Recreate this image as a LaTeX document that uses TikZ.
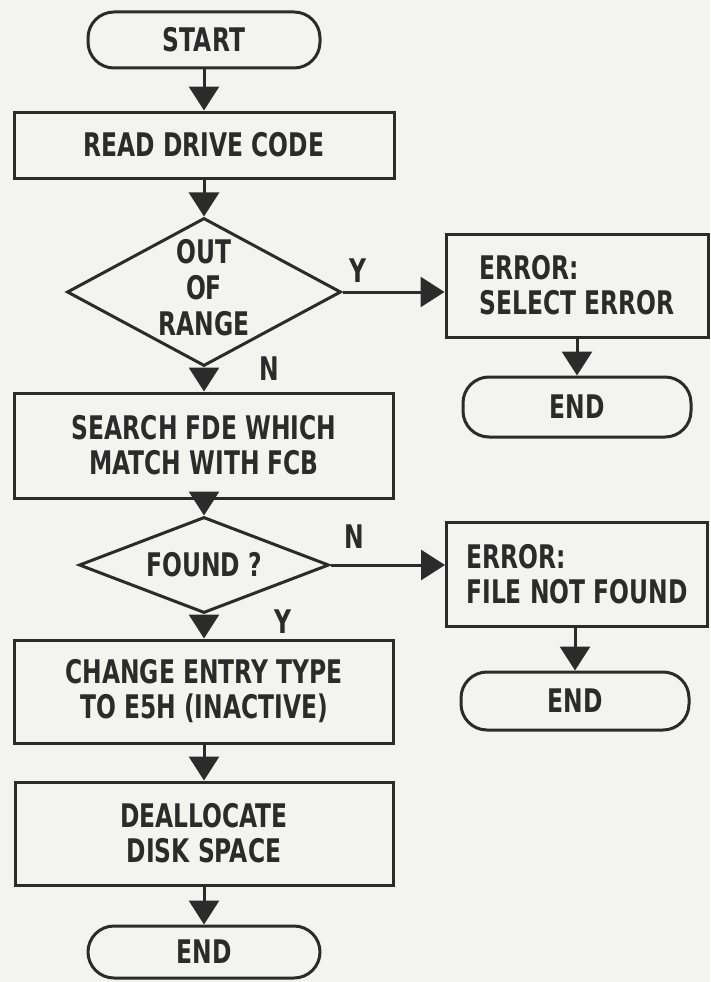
\documentclass[tikz,border=0pt]{standalone}
\usepackage{fontspec}
\newfontfamily\flowfont[FakeStretch=0.72]{DejaVu Sans}
\usetikzlibrary{shapes.geometric,arrows.meta}
\definecolor{ink}{HTML}{2B2B2B}
\definecolor{paper}{HTML}{F3F3F0}
\begin{document}
\begin{tikzpicture}[x=1pt,y=-1pt,
  every node/.style={font=\flowfont\bfseries\fontsize{32.5}{35}\selectfont, text=ink},
  box/.style={draw=ink, line width=3pt, rectangle, inner sep=0pt, align=center},
  term/.style={box, rounded corners=26pt},
  dec/.style={draw=ink, line width=3pt, diamond, inner sep=0pt},
  flow/.style={draw=ink, line width=3pt, -{Triangle[width=30pt,length=24pt]}},
  lbl/.style={inner sep=0pt}
]
\useasboundingbox (0,0) rectangle (710,982);
\fill[paper] (0,0) rectangle (710,982);

% main column
\node[term, minimum width=232pt, minimum height=56pt] (start) at (204,40) {START};
\node[box, minimum width=380pt, minimum height=66pt] (read) at (204,145) {READ DRIVE CODE};
\node[dec, minimum width=274pt, minimum height=148pt] (d1) at (204,292) {};
\node[align=center, inner sep=0pt, font=\flowfont\bfseries\fontsize{32.5}{36}\selectfont] (d1t) at (204,288) {OUT\\OF\\RANGE};
\node[box, minimum width=379pt, minimum height=105pt] (search) at (204,445.5) {SEARCH FDE WHICH\\MATCH WITH FCB};
\node[dec, minimum width=250pt, minimum height=96pt] (d2) at (204,565) {};
\node[inner sep=0pt] (d2t) at (204,565) {FOUND ?};
\node[box, minimum width=379pt, minimum height=103pt] (change) at (204,691.5) {CHANGE ENTRY TYPE\\TO E5H (INACTIVE)};
\node[box, minimum width=378pt, minimum height=103pt] (dealloc) at (204,833.5) {DEALLOCATE\\DISK SPACE};
\node[term, minimum width=232pt, minimum height=52pt] (end3) at (204,952) {END};

% right column
\node[box, align=left, minimum width=262pt, minimum height=103pt] (err1) at (577,285.5) {ERROR:\\SELECT ERROR};
\node[term, minimum width=228pt, minimum height=60pt] (end1) at (577,407) {END};
\node[box, align=left, minimum width=261pt, minimum height=104pt] (err2) at (577,574) {ERROR:\\FILE NOT FOUND};
\node[term, minimum width=228pt, minimum height=58pt] (end2) at (575,701) {END};

% connectors
\draw[flow] (start) -- (read);
\draw[flow] (read) -- (d1);
\draw[flow] (d1) -- (search);
\draw[flow] (search) -- (d2);
\draw[flow] (d2) -- (change);
\draw[flow] (change) -- (dealloc);
\draw[flow] (dealloc) -- (end3);
\draw[flow] (d1.east) -- (d1.east -| err1.west);
\draw[flow] (d2.east) -- (d2.east -| err2.west);
\draw[flow] (err1) -- (end1);
\draw[flow] (err2.south -| end2) -- (end2);

% branch labels
\node[lbl] (y1) at (358,271) {Y};
\node[lbl] (n1) at (269,369) {N};
\node[lbl] (n2) at (354,537) {N};
\node[lbl] (y2) at (283,622) {Y};
\end{tikzpicture}
\end{document}
